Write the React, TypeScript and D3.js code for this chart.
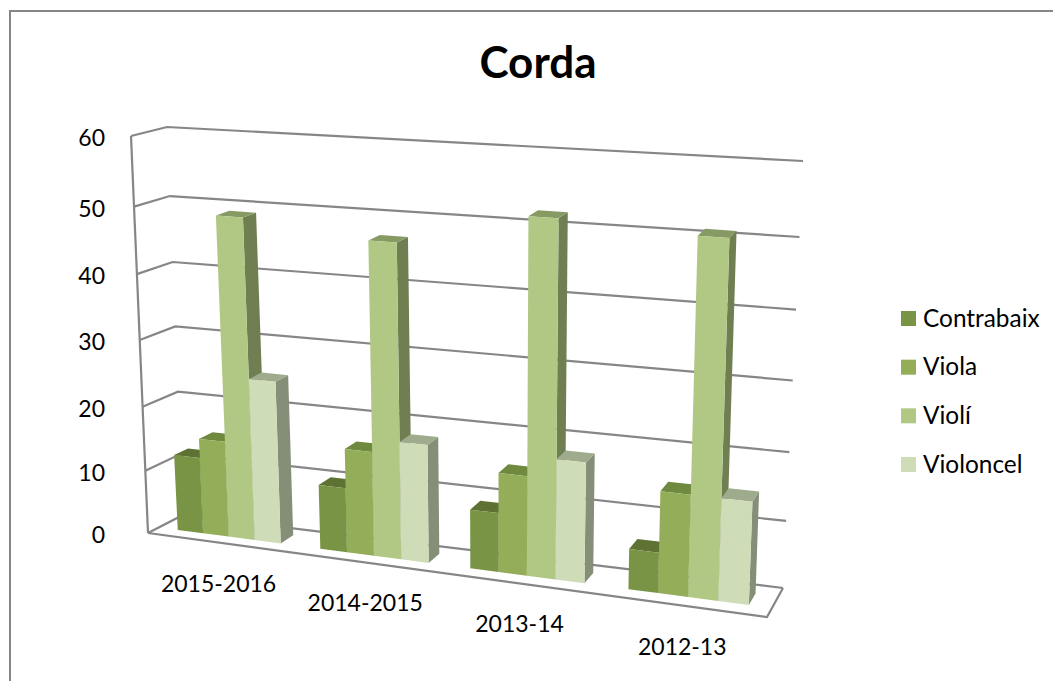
import React, { useRef, useEffect } from 'react';
import * as d3 from 'd3';

const categories = ['2015-2016', '2014-2015', '2013-14', '2012-13'];
const seriesNames = ['Contrabaix', 'Viola', 'Violí', 'Violoncel'];
const contrabaix = [12, 10, 9, 6];
const viola = [15, 16, 15, 15];
const violi = [49, 47, 52, 51];
const violoncel = [25, 18, 18, 15];
const seriesValues = [contrabaix, viola, violi, violoncel];
const yTicks = [0, 10, 20, 30, 40, 50, 60];

const frontColors = ['#7a9445', '#93ad58', '#b1c884', '#cfdcb8'];
const topColors = ['#5e7233', '#6f8a3e', '#879a63', '#9eab8c'];
const sideColors = ['#5b6e36', '#6a7f42', '#6f7f52', '#858f78'];
const GRID = '#868686';

// corners of the 3d box as they land on screen
const frontBottom = [[148, 533], [767, 617]];
const frontTop = [[131, 136], [787, 177]];
const backBottom = [[183, 515], [783, 588]];
const backTop = [[167, 127], [803, 161]];

// the perspective squeezes the value axis a bit
const heightFrac = d3.scaleLinear()
    .domain(yTicks)
    .range([0, 0.157, 0.318, 0.486, 0.652, 0.822, 1]);
const skew = 1.11;
const widthFrac = (u: number) => u / (skew - (skew - 1) * u);
const barLean = 3.5;

const mix = (a: number[], b: number[], t: number) => [
    a[0] + (b[0] - a[0]) * t,
    a[1] + (b[1] - a[1]) * t,
];

const project = (u: number, value: number, depth: number) => {
    const x = widthFrac(u);
    const h = heightFrac(value);
    const fb = mix(frontBottom[0], frontBottom[1], x);
    const ft = mix(frontTop[0], frontTop[1], x);
    const bb = mix(backBottom[0], backBottom[1], x);
    const bt = mix(backTop[0], backTop[1], x);
    return mix(mix(fb, ft, h), mix(bb, bt, h), depth);
};

// bars lean slightly further left than the walls do
const projectBar = (u: number, value: number, depth: number) => {
    const p = project(u, value, depth);
    return [p[0] - barLean * heightFrac(value), p[1]] as [number, number];
};

const App = () => {
    const svgRef = useRef<SVGSVGElement>(null);

    useEffect(() => {
        const svg = d3.select(svgRef.current);
        svg.selectAll('*').remove();

        const poly = d3.line().curve(d3.curveLinearClosed);
        const seg = d3.line();
        const font = 'Lato, "Noto Sans", sans-serif';

        svg.append('path')
            .attr('d', seg([[10, 690], [10, 11], [1060, 11]]))
            .attr('fill', 'none')
            .attr('stroke', GRID)
            .attr('stroke-width', 2);

        svg.append('text')
            .attr('x', 538)
            .attr('y', 78)
            .attr('text-anchor', 'middle')
            .attr('font-family', font)
            .attr('font-weight', 700)
            .attr('font-size', 44)
            .text('Corda');

        const drawLine = (pts: number[][]) =>
            svg.append('path')
                .attr('d', seg(pts as [number, number][]))
                .attr('fill', 'none')
                .attr('stroke', GRID)
                .attr('stroke-width', 2.2);

        // walls and floor
        yTicks.forEach((t) => {
            drawLine([project(0, t, 0), project(0, t, 1), project(1, t, 1)]);
            svg.append('text')
                .attr('x', 105)
                .attr('y', project(0, t, 0)[1] + 10)
                .attr('text-anchor', 'end')
                .attr('font-family', font)
                .attr('font-size', 23)
                .text(t);
        });
        drawLine([project(0, 0, 0), project(0, 60, 0)]);
        drawLine([project(0, 0, 0), project(1, 0, 0), project(1, 0, 1)]);

        // bars, left to right so that each one covers the side of the last
        const gap = 1.5;
        const barW = 1 / (seriesNames.length + gap);
        const catW = 1 / categories.length;
        const d0 = 0.31;
        const d1 = 0.71;

        categories.forEach((_, c) => {
            seriesValues.forEach((vals, s) => {
                const v = vals[c];
                const u0 = (c + (gap / 2 + s) * barW) * catW;
                const u1 = u0 + barW * catW;
                svg.append('path')
                    .attr('d', poly([projectBar(u1, 0, d0), projectBar(u1, 0, d1), projectBar(u1, v, d1), projectBar(u1, v, d0)]))
                    .attr('fill', sideColors[s]);
                svg.append('path')
                    .attr('d', poly([projectBar(u0, v, d0), projectBar(u1, v, d0), projectBar(u1, v, d1), projectBar(u0, v, d1)]))
                    .attr('fill', topColors[s]);
                svg.append('path')
                    .attr('d', poly([projectBar(u0, 0, d0), projectBar(u1, 0, d0), projectBar(u1, v, d0), projectBar(u0, v, d0)]))
                    .attr('fill', frontColors[s]);
            });
            const p = project((c + 0.5) * catW, 0, 0);
            svg.append('text')
                .attr('x', p[0])
                .attr('y', p[1] + 49)
                .attr('text-anchor', 'middle')
                .attr('font-family', font)
                .attr('font-size', 23)
                .text(categories[c]);
        });

        // legend
        const legendY = d3.scalePoint().domain(seriesNames).range([318.5, 464.5]);
        seriesNames.forEach((name, s) => {
            const y = legendY(name) as number;
            svg.append('rect')
                .attr('x', 901)
                .attr('y', y - 7.5)
                .attr('width', 15)
                .attr('height', 15)
                .attr('fill', frontColors[s]);
            svg.append('text')
                .attr('x', 923)
                .attr('y', y + 8)
                .attr('font-family', font)
                .attr('font-size', 24.4)
                .text(name);
        });
    }, []);

    return (
        <svg
            ref={svgRef}
            width={1053}
            height={681}
            style={{ position: 'absolute', left: 0, top: 0, background: '#fff' }}
        />
    );
};

export default App;
